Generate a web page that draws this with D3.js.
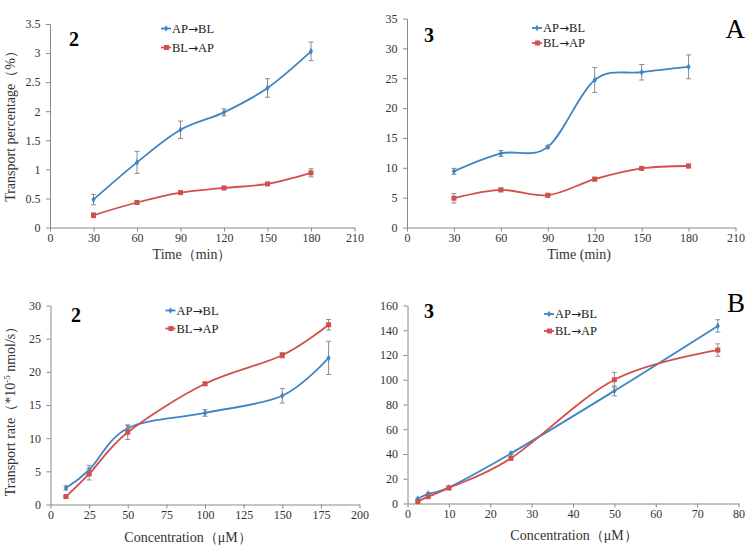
<!DOCTYPE html>
<html><head><meta charset="utf-8">
<script src="https://cdn.jsdelivr.net/npm/d3@7"></script>
<style>body{margin:0;background:#fff}svg{display:block}</style>
</head><body>
<script>
// ---- data ----
const timeX = [30, 60, 90, 120, 150, 180];
const p1AB = [0.48, 1.12, 1.68, 1.98, 2.40, 3.03];
const p1ABerr = [0.09, 0.19, 0.15, 0.06, 0.16, 0.16];
const p1BA = [0.21, 0.43, 0.60, 0.68, 0.75, 0.94];
const p1BAerr = [0.04, 0.02, 0.02, 0.02, 0.02, 0.07];

const p2AB = [9.4, 12.4, 13.5, 24.7, 26.0, 26.9];
const p2ABerr = [0.5, 0.5, 0.2, 2.1, 1.3, 2.0];
const p2BA = [4.9, 6.3, 5.4, 8.1, 9.9, 10.3];
const p2BAerr = [0.8, 0.3, 0.3, 0.3, 0.3, 0.3];

const concX3 = [10, 25, 50, 100, 150, 180];
const p3AB = [2.5, 5.2, 11.5, 13.8, 16.4, 22.1];
const p3ABerr = [0.3, 0.7, 0.4, 0.5, 1.1, 2.5];
const p3BA = [1.2, 4.6, 10.9, 18.2, 22.5, 27.1];
const p3BAerr = [0.1, 0.9, 1.1, 0.2, 0.4, 0.8];

const concX4 = [2.5, 5, 10, 25, 50, 75];
const p4AB = [3.8, 7.8, 13.0, 40.5, 91, 143.5];
const p4ABerr = [0.8, 1, 1, 1, 4, 5];
const p4BA = [1.5, 5.5, 12.5, 36.5, 100, 124];
const p4BAerr = [0.8, 1, 1, 1, 6, 5];

const seriesNames = [["AP", "\u2192", "BL"], ["BL", "\u2192", "AP"]];
const blue = "#3d85c6", red = "#d24f4c";
const serif = "'Liberation Serif','Times New Roman',serif";
const arrowFont = "'DejaVu Sans',sans-serif";

const svg = d3.select("body").append("svg").attr("width", 752).attr("height", 550);

function panel(cfg) {
  const g = svg.append("g");
  const x = d3.scaleLinear().domain(cfg.xDomain).range([cfg.x0, cfg.x1]);
  const y = d3.scaleLinear().domain(cfg.yDomain).range([cfg.y0, cfg.y1]);
  const xa = g.append("g").attr("transform", `translate(0,${cfg.y0})`)
    .call(d3.axisBottom(x).tickValues(cfg.xTicks).tickSize(4).tickPadding(2).tickSizeOuter(0).tickFormat(cfg.xFmt || d3.format("")));
  const ya = g.append("g").attr("transform", `translate(${cfg.x0},0)`)
    .call(d3.axisLeft(y).tickValues(cfg.yTicks).tickSize(4).tickSizeOuter(0).tickFormat(cfg.yFmt || d3.format("")));
  [xa, ya].forEach(a => {
    a.select(".domain").attr("stroke", "#8a8a8a");
    a.selectAll(".tick line").attr("stroke", "#8a8a8a");
    a.selectAll(".tick text").attr("font-family", serif).attr("font-size", 12).attr("fill", "#333");
  });
  ya.selectAll(".tick text").attr("dx", "-0.2em");

  const line = d3.line().x(d => x(d[0])).y(d => y(d[1])).curve(d3.curveCardinal.tension(0));
  cfg.series.forEach((s, si) => {
    const pts = cfg.xs.map((xv, i) => [xv, s.v[i], s.e[i]]);
    g.append("path").attr("d", line(pts)).attr("fill", "none").attr("stroke", s.c).attr("stroke-width", 1.8);
    // error bars
    pts.forEach(p => {
      const xx = x(p[0]), yt = y(p[1] + p[2]), yb = y(p[1] - p[2]);
      g.append("line").attr("x1", xx).attr("x2", xx).attr("y1", yt).attr("y2", yb).attr("stroke", "#8c8c8c").attr("stroke-width", 1);
      g.append("line").attr("x1", xx - 2.5).attr("x2", xx + 2.5).attr("y1", yt).attr("y2", yt).attr("stroke", "#8c8c8c").attr("stroke-width", 1);
      g.append("line").attr("x1", xx - 2.5).attr("x2", xx + 2.5).attr("y1", yb).attr("y2", yb).attr("stroke", "#8c8c8c").attr("stroke-width", 1);
    });
    pts.forEach(p => {
      if (si === 0) {
        g.append("path").attr("d", d3.symbol(d3.symbolDiamond, 14)()).attr("transform", `translate(${x(p[0])},${y(p[1])})`).attr("fill", s.c);
      } else {
        g.append("rect").attr("x", x(p[0]) - 2.5).attr("y", y(p[1]) - 2.5).attr("width", 5).attr("height", 5).attr("fill", s.c);
      }
    });
    // legend
    const ly = cfg.legY[si];
    g.append("line").attr("x1", cfg.legX).attr("x2", cfg.legX + 10).attr("y1", ly).attr("y2", ly).attr("stroke", s.c).attr("stroke-width", 1.8);
    if (si === 0) g.append("path").attr("d", d3.symbol(d3.symbolDiamond, 12)()).attr("transform", `translate(${cfg.legX + 5},${ly})`).attr("fill", s.c);
    else g.append("rect").attr("x", cfg.legX + 3).attr("y", ly - 2.5).attr("width", 5).attr("height", 5).attr("fill", s.c);
    const lt = g.append("text").attr("x", cfg.legX + 11).attr("y", ly).attr("dy", "0.35em").attr("font-family", serif)
      .attr("font-size", 12.5).attr("fill", "#222");
    lt.append("tspan").text(seriesNames[si][0]);
    lt.append("tspan").attr("font-family", arrowFont).attr("font-size", 12).text(seriesNames[si][1]);
    lt.append("tspan").text(seriesNames[si][2]);
  });
  // panel number
  g.append("text").attr("x", cfg.num[0]).attr("y", cfg.num[1]).attr("font-family", serif).attr("font-weight", "bold")
    .attr("font-size", 20).attr("fill", "#000").text(cfg.num[2]);
  if (cfg.letter) g.append("text").attr("x", cfg.letter[0]).attr("y", cfg.letter[1]).attr("font-family", serif)
    .attr("font-size", 27).attr("fill", "#000").attr("text-anchor", "end").text(cfg.letter[2]);
  // x label
  g.append("text").attr("x", cfg.xl[0]).attr("y", cfg.xl[1]).attr("text-anchor", "middle").attr("font-family", serif)
    .attr("font-size", 14).attr("fill", "#333").text(cfg.xl[2]);
  if (cfg.yl) {
    const t = g.append("text").attr("transform", `translate(${cfg.yl[0]},${cfg.yl[1]}) rotate(-90)`).attr("text-anchor", "middle")
      .attr("font-family", serif).attr("font-size", 14).attr("fill", "#333");
    cfg.yl[2].forEach(part => {
      const ts = t.append("tspan").text(part.t);
      if (part.sup) ts.attr("baseline-shift", "super").attr("font-size", 9);
    });
  }
}

panel({
  xDomain: [0, 210], yDomain: [0, 3.5], x0: 50, x1: 354.5, y0: 227.5, y1: 24,
  xTicks: d3.range(0, 211, 30), yTicks: d3.range(0, 3.51, 0.5), yFmt: d3.format(".2~f"),
  xs: timeX, series: [{ v: p1AB, e: p1ABerr, c: blue }, { v: p1BA, e: p1BAerr, c: red }],
  legX: 161, legY: [28.5, 47.5], num: [69, 46, "2"],
  xl: [192, 259, "Time\uFF08min\uFF09"],
  yl: [15, 123, [{ t: "Transport  percentage\uFF08%\uFF09" }]]
});
panel({
  xDomain: [0, 210], yDomain: [0, 35], x0: 407, x1: 735.5, y0: 227.5, y1: 18.5,
  xTicks: d3.range(0, 211, 30), yTicks: d3.range(0, 36, 5),
  xs: timeX, series: [{ v: p2AB, e: p2ABerr, c: blue }, { v: p2BA, e: p2BAerr, c: red }],
  legX: 532, legY: [28, 43], num: [424, 42, "3"], letter: [745, 38, "A"],
  xl: [579, 259, "Time (min)"]
});
panel({
  xDomain: [0, 200], yDomain: [0, 30], x0: 50.5, x1: 359.5, y0: 504.5, y1: 305.5,
  xTicks: d3.range(0, 201, 25), yTicks: d3.range(0, 31, 5),
  xs: concX3, series: [{ v: p3AB, e: p3ABerr, c: blue }, { v: p3BA, e: p3BAerr, c: red }],
  legX: 165.5, legY: [310.5, 328.5], num: [71, 322, "2"],
  xl: [188, 542, "Concentration\uFF08\u03BCM\uFF09"],
  yl: [15, 408, [{ t: "Transport rate\uFF08*10" }, { t: "-5", sup: true }, { t: " nmol/s\uFF09" }]]
});
panel({
  xDomain: [0, 80], yDomain: [0, 160], x0: 407.5, x1: 738.5, y0: 503.5, y1: 305.5,
  xTicks: d3.range(0, 81, 10), yTicks: d3.range(0, 161, 20),
  xs: concX4, series: [{ v: p4AB, e: p4ABerr, c: blue }, { v: p4BA, e: p4BAerr, c: red }],
  legX: 544, legY: [314, 331], num: [424, 318, "3"], letter: [745, 312, "B"],
  xl: [574, 540, "Concentration\uFF08\u03BCM\uFF09"]
});
</script>
</body></html>
